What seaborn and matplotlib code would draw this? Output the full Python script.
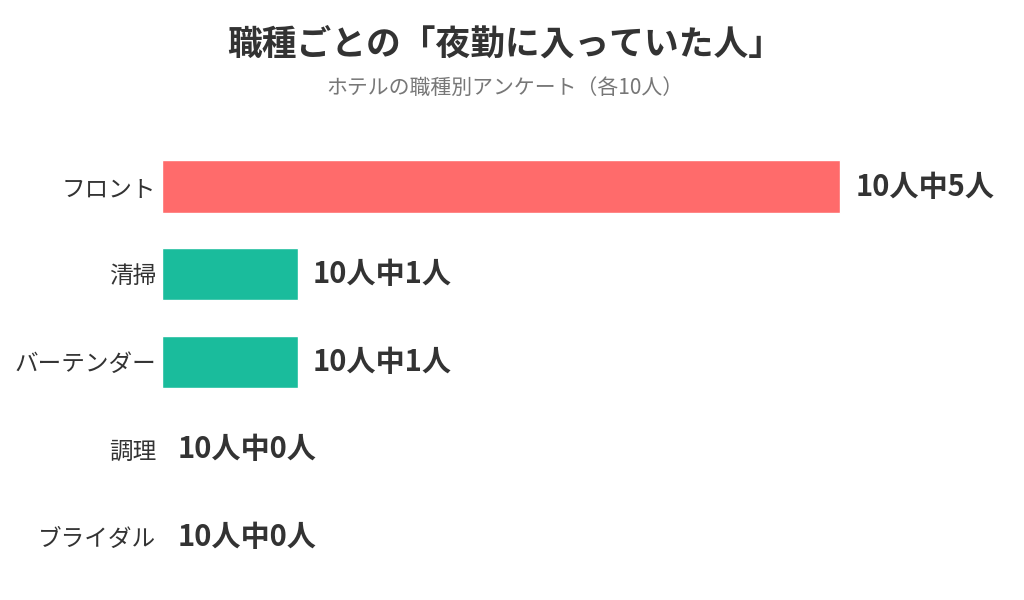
import matplotlib
matplotlib.use('Agg')
import matplotlib.pyplot as plt
import seaborn as sns
import pandas as pd

jobs = ['フロント', '清掃', 'バーテンダー', '調理', 'ブライダル']
night_counts = [5, 1, 1, 0, 0]
total = 10

df = pd.DataFrame({'職種': jobs, '人数': night_counts})
top = max(night_counts)
colors = ['#FF6B6B' if v == top else '#1ABC9C' for v in night_counts]

sns.set_style('white')
plt.rcParams['font.family'] = ['Noto Sans CJK JP', 'DejaVu Sans']

fig = plt.figure(figsize=(10.24, 6.0), dpi=100)
ax = fig.add_axes([162 / 1024, 0.032, 813.6 / 1024, 0.73])

sns.barplot(data=df, x='人数', y='職種', hue='職種', palette=colors,
            legend=False, width=0.6, saturation=1, ax=ax)

ax.set_xlim(0, 6)
ax.set_ylim(4.5, -0.5)
sns.despine(ax=ax, left=True, bottom=True)
ax.set_xticks([])
ax.set_xlabel('')
ax.set_ylabel('')
ax.tick_params(axis='y', length=0, pad=4, labelsize=17, labelcolor='#333333')

for i, v in enumerate(night_counts):
    ax.annotate(f'{total}人中{v}人', xy=(v, i), xytext=(11, 0),
                textcoords='offset points', va='center', ha='left',
                fontsize=21, fontweight='bold', color='#333333',
                annotation_clip=False)

fig.text(0.493, 0.927, '職種ごとの「夜勤に入っていた人」', ha='center', va='center',
         fontsize=25, fontweight='bold', color='#333333')
fig.text(0.493, 0.854, 'ホテルの職種別アンケート（各10人）', ha='center', va='center',
         fontsize=15, color='#777777')

fig.savefig('out.png', dpi=100)
